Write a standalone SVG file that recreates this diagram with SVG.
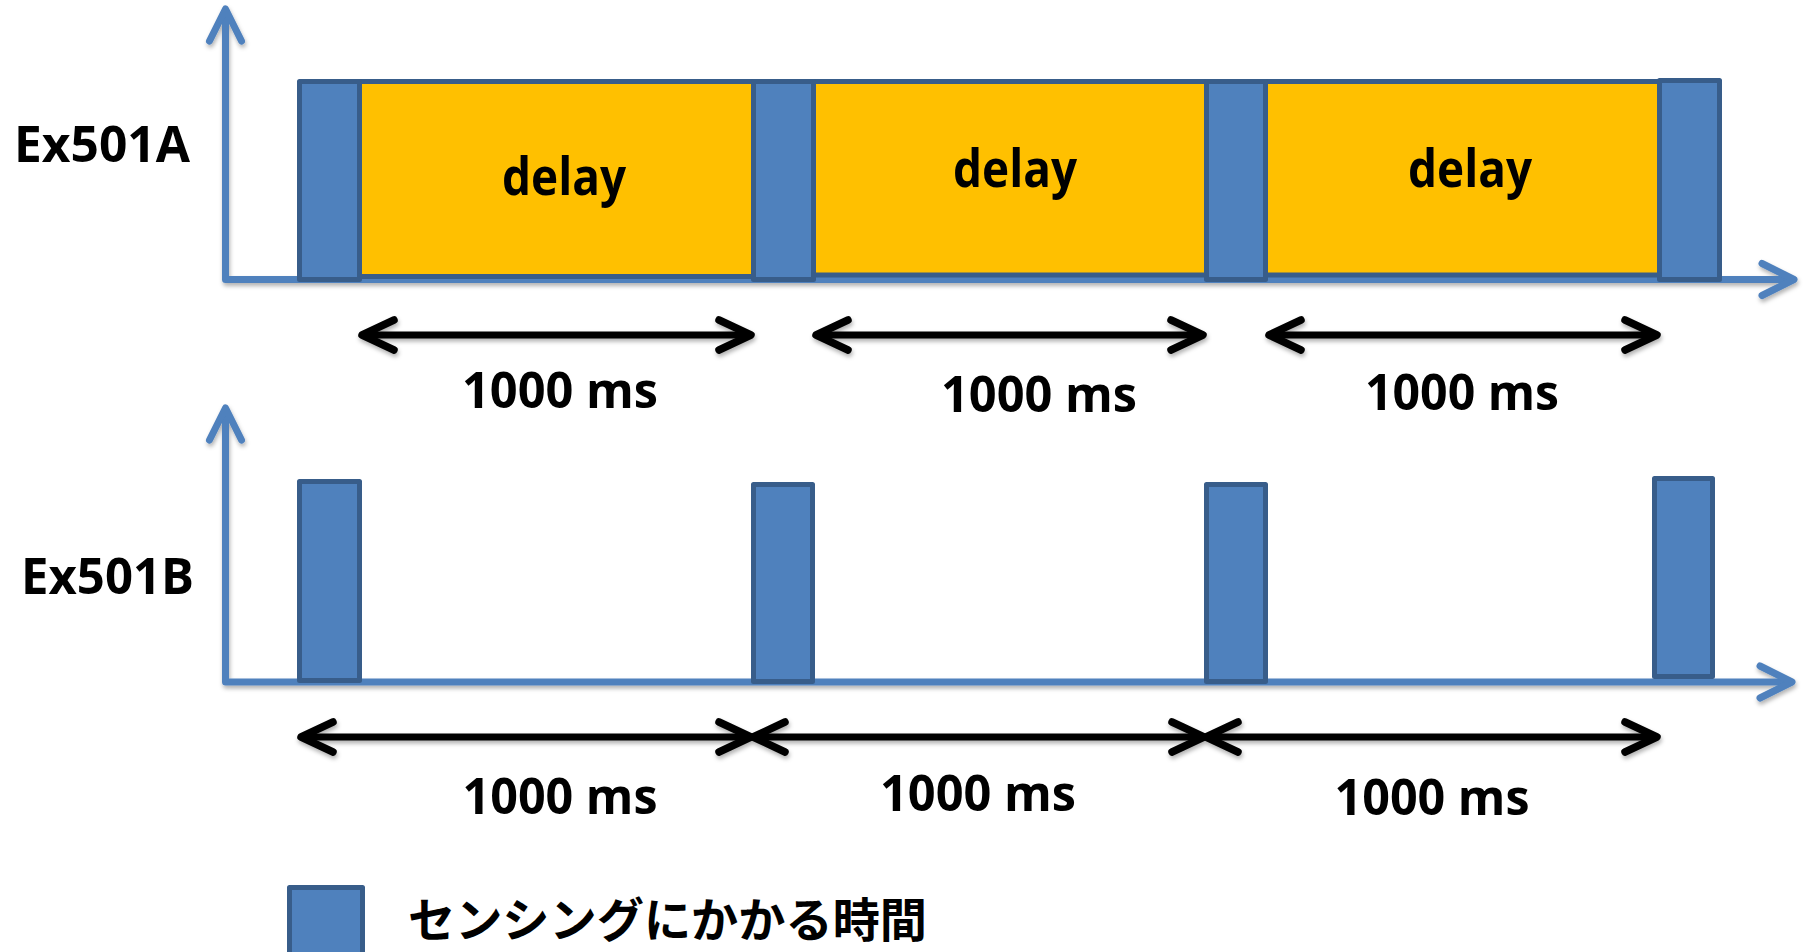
<svg xmlns="http://www.w3.org/2000/svg" width="1804" height="952" viewBox="0 0 1804 952">
<style>
.lbl{font-family:"Open Sans","Noto Sans","Noto Sans CJK JP",sans-serif;font-weight:bold;fill:#000}
.big{font-size:51px}
.ms{font-size:50px;text-anchor:middle}
.dl{font-size:52px;text-anchor:middle}
.jp{font-family:"Noto Sans CJK JP",sans-serif;font-weight:bold;font-size:47px;fill:#000}
.sense{fill:#4F81BD;stroke:#385D8A;stroke-width:5;stroke-linejoin:round}
.delay{fill:#FFC000;stroke:#385D8A;stroke-width:5}
.axis{fill:none;stroke:#4F81BD;stroke-width:7;stroke-linejoin:round;marker-start:url(#bchev);marker-end:url(#bchev)}
.dim{fill:none;stroke:#000;stroke-width:7;marker-start:url(#kchev);marker-end:url(#kchev)}
</style>
<defs>
<filter id="sh" x="-5%" y="-50%" width="110%" height="200%">
<feDropShadow dx="1" dy="3" stdDeviation="2" flood-color="#000" flood-opacity="0.3"/>
</filter>
<marker id="kchev" viewBox="-40 -20 46 40" refX="0" refY="0" markerWidth="46" markerHeight="40" markerUnits="userSpaceOnUse" orient="auto-start-reverse" overflow="visible">
<path d="M-32,-15 L0,0 L-32,15" fill="none" stroke="#000" stroke-width="7.5" stroke-linecap="round" stroke-linejoin="round"/>
</marker>
<marker id="bchev" viewBox="-40 -20 46 40" refX="0" refY="0" markerWidth="46" markerHeight="40" markerUnits="userSpaceOnUse" orient="auto-start-reverse" overflow="visible">
<path d="M-32,-16 L0,0 L-32,16" fill="none" stroke="#4F81BD" stroke-width="7" stroke-linecap="round" stroke-linejoin="round"/>
</marker>
</defs>
<rect width="1804" height="952" fill="#fff"/>

<g id="connectors">
<g filter="url(#sh)">
<path id="axisA" class="axis" d="M225.5,9 L225.5,279.5 L1794,279.5"/>
<path id="axisB" class="axis" d="M225.5,408 L225.5,682 L1792,682"/>
</g>
<g filter="url(#sh)">
<path id="dimA1" class="dim" d="M362,335 L751,335"/>
<path id="dimA2" class="dim" d="M816,335 L1203,335"/>
<path id="dimA3" class="dim" d="M1269,335 L1657,335"/>
<path id="dimB1" class="dim" d="M301,737 L751,737"/>
<path id="dimB2" class="dim" d="M753,737 L1204,737"/>
<path id="dimB3" class="dim" d="M1206,737 L1657,737"/>
</g>
</g>

<g id="delayA1"><rect class="delay" x="359.5" y="81.5" width="394" height="195"/><text class="lbl dl" x="564" y="195" textLength="124" lengthAdjust="spacingAndGlyphs">delay</text></g>
<g id="delayA2"><rect class="delay" x="813.5" y="81.5" width="393" height="193.5"/><text class="lbl dl" x="1015" y="187" textLength="124" lengthAdjust="spacingAndGlyphs">delay</text></g>
<g id="delayA3"><rect class="delay" x="1265.5" y="81.5" width="394" height="193.5"/><text class="lbl dl" x="1470" y="187" textLength="124" lengthAdjust="spacingAndGlyphs">delay</text></g>

<g id="senseA1"><rect class="sense" x="299.5" y="81.5" width="60" height="198"/></g>
<g id="senseA2"><rect class="sense" x="753.5" y="81.5" width="60" height="198"/></g>
<g id="senseA3"><rect class="sense" x="1206.5" y="81.5" width="59" height="198"/></g>
<g id="senseA4"><rect class="sense" x="1659.5" y="80.5" width="60" height="199"/></g>

<g id="senseB1"><rect class="sense" x="299.5" y="481.5" width="60" height="199"/></g>
<g id="senseB2"><rect class="sense" x="753.5" y="484.5" width="59" height="197"/></g>
<g id="senseB3"><rect class="sense" x="1206.5" y="484.5" width="59" height="197"/></g>
<g id="senseB4"><rect class="sense" x="1654.5" y="478.5" width="58" height="198"/></g>

<g id="labelA"><text class="lbl big" x="14" y="162" textLength="176" lengthAdjust="spacingAndGlyphs">Ex501A</text></g>
<g id="labelB"><text class="lbl big" x="21" y="594" textLength="173" lengthAdjust="spacingAndGlyphs">Ex501B</text></g>

<g id="msA1"><text class="lbl ms" x="560" y="408" textLength="196" lengthAdjust="spacingAndGlyphs">1000 ms</text></g>
<g id="msA2"><text class="lbl ms" x="1039" y="412" textLength="196" lengthAdjust="spacingAndGlyphs">1000 ms</text></g>
<g id="msA3"><text class="lbl ms" x="1462" y="410" textLength="194" lengthAdjust="spacingAndGlyphs">1000 ms</text></g>
<g id="msB1"><text class="lbl ms" x="560" y="814" textLength="195" lengthAdjust="spacingAndGlyphs">1000 ms</text></g>
<g id="msB2"><text class="lbl ms" x="978" y="811" textLength="196" lengthAdjust="spacingAndGlyphs">1000 ms</text></g>
<g id="msB3"><text class="lbl ms" x="1432" y="815" textLength="195" lengthAdjust="spacingAndGlyphs">1000 ms</text></g>

<g id="legend">
<rect class="sense" x="289.5" y="887.5" width="73" height="80"/>
<text class="jp" x="408" y="937" textLength="519" lengthAdjust="spacingAndGlyphs">センシングにかかる時間</text>
</g>
</svg>
